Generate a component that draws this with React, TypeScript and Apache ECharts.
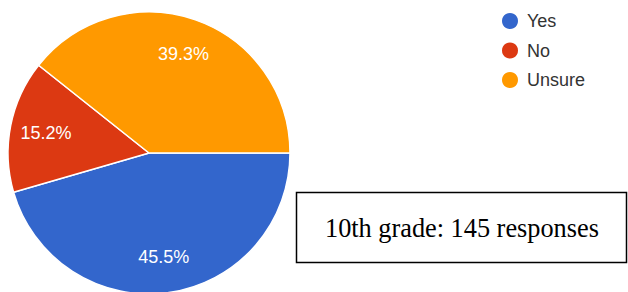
import React, { useEffect, useRef } from "react";
import * as echarts from "echarts";

const categories = ["Yes", "No", "Unsure"];
const responses = [66, 22, 57];
const colors = ["#3366CC", "#DC3912", "#FF9900"];
const boxText = "10th grade: 145 responses";

export default function App() {
  const ref = useRef<HTMLDivElement>(null);
  useEffect(() => {
    if (!ref.current) return;
    const chart = echarts.init(ref.current, null, { renderer: "svg" });
    const data = categories.map((name, i) => ({
      name,
      value: responses[i],
      itemStyle: { color: colors[i] },
    }));
    chart.setOption({
      animation: false,
      backgroundColor: "#ffffff",
      legend: {
        orient: "vertical",
        left: 495,
        top: 6,
        icon: "circle",
        itemWidth: 18,
        itemHeight: 18,
        itemGap: 9.5,
        data: categories,
        textStyle: {
          fontFamily: "Arial, 'Liberation Sans', sans-serif",
          fontSize: 18,
          color: "#333333",
          padding: [0, 0, 0, 3],
        },
      },
      series: [
        {
          type: "pie",
          center: [149, 153],
          radius: [0, 141],
          startAngle: 0,
          clockwise: true,
          silent: true,
          label: { show: false },
          labelLine: { show: false },
          itemStyle: { borderColor: "#ffffff", borderWidth: 1.5 },
          data,
        },
        {
          type: "pie",
          center: [149, 153],
          radius: [63, 141],
          startAngle: 0,
          clockwise: true,
          silent: true,
          percentPrecision: 1,
          z: 5,
          itemStyle: { color: "rgba(0,0,0,0)" },
          label: {
            show: true,
            position: "inside",
            formatter: "{d}%",
            color: "#ffffff",
            fontSize: 18,
            fontFamily: "Arial, 'Liberation Sans', sans-serif",
          },
          labelLine: { show: false },
          data: categories.map((name, i) => ({ name, value: responses[i] })),
        },
      ],
      graphic: [
        {
          type: "rect",
          shape: { x: 296.5, y: 192.5, width: 330, height: 70 },
          style: { fill: "#ffffff", stroke: "#000000", lineWidth: 1.5 },
        },
        {
          type: "text",
          x: 325,
          y: 228,
          style: {
            text: boxText,
            fill: "#000000",
            fontSize: 26.3,
            fontFamily: "'Liberation Serif', 'Times New Roman', serif",
            verticalAlign: "middle",
          },
        },
      ],
    });
    return () => chart.dispose();
  }, []);
  return (
    <div
      ref={ref}
      style={{ position: "absolute", left: 0, top: 0, width: 628, height: 292 }}
    />
  );
}
